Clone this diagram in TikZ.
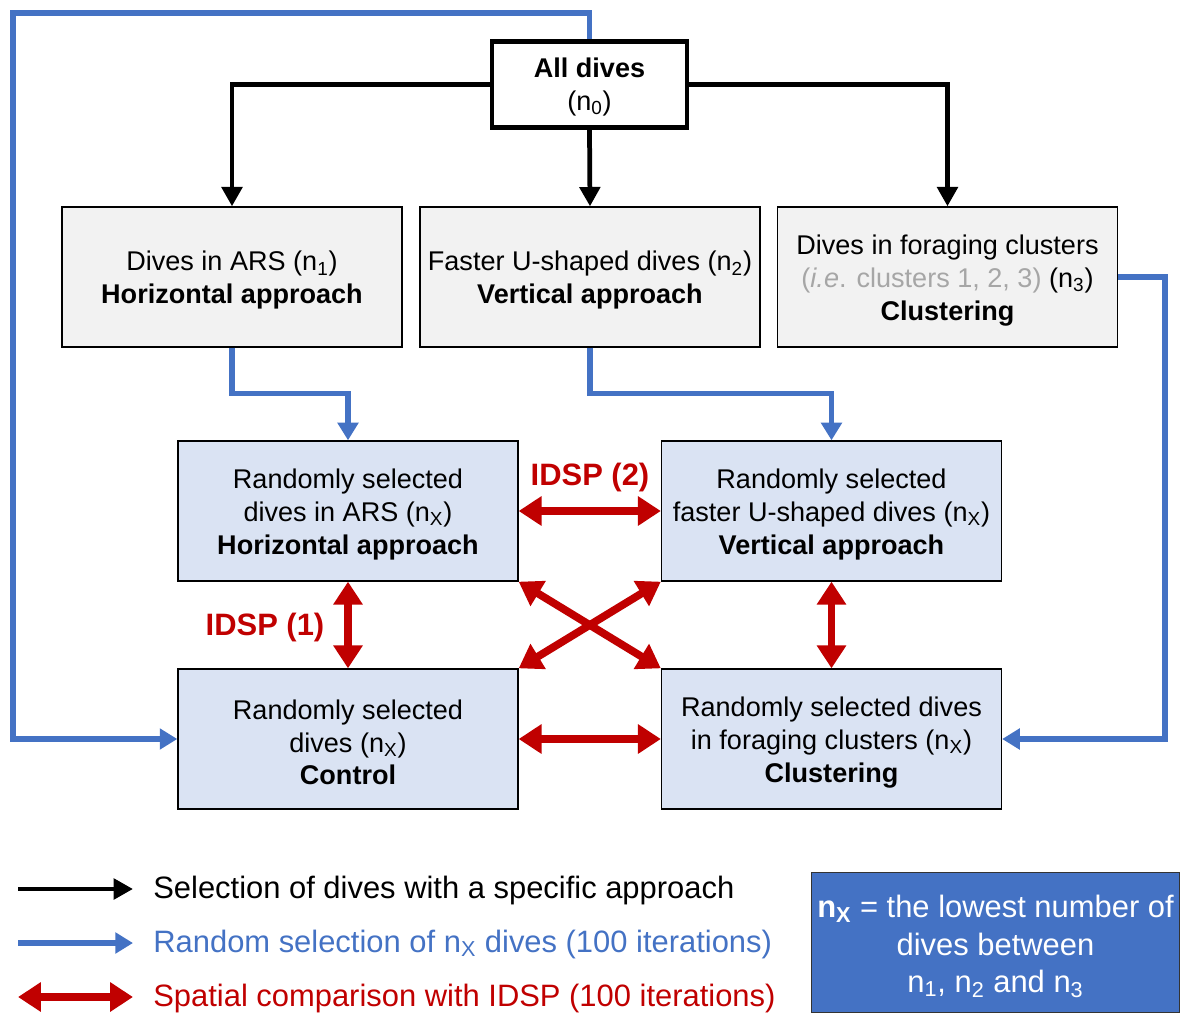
\documentclass[tikz,border=0pt]{standalone}
\usepackage{fontspec}
\setmainfont{Liberation Sans}
\usepackage{xcolor}
\usetikzlibrary{arrows.meta}

\definecolor{boxgrey}{HTML}{F2F2F2}
\definecolor{boxblue}{HTML}{DAE3F3}
\definecolor{linkblue}{HTML}{4472C4}
\definecolor{idspred}{HTML}{C00000}
\definecolor{textgrey}{HTML}{A6A6A6}

\tikzset{
  boxtext/.style={font=\fontsize{15.4}{18.7}\selectfont, align=center},
  greybox/.style={boxtext, draw, line width=0.8pt, fill=boxgrey, minimum width=6.8cm, minimum height=2.8cm},
  bluebox/.style={boxtext, draw, line width=0.8pt, fill=boxblue, minimum width=6.8cm, minimum height=2.8cm},
  selarrow/.style={line width=2.7pt, -{Triangle[length=11pt,width=11.5pt]}},
  randarrow/.style={linkblue, line width=3.1pt, -{Triangle[length=10pt,width=11.5pt]}},
  idsparrow/.style={idspred, line width=4.4pt, {Triangle[length=13pt,width=16pt]}-{Triangle[length=13pt,width=16pt]}},
  idsp/.style={idspred, font=\fontsize{17.6}{21}\selectfont\bfseries},
  legtext/.style={anchor=west, font=\fontsize{17.6}{21}\selectfont, inner sep=0pt}
}

\begin{document}
\begin{tikzpicture}[x=0.02cm, y=-0.02cm]
    \useasboundingbox (0,0) rectangle (1180,1014);

    % Source
    \node[boxtext, draw, line width=2.8pt, fill=white, minimum width=3.9cm, minimum height=1.72cm] (all) at (589.5,84.5) {\rule{0pt}{14pt}\textbf{All dives}\\(n\textsubscript{0})};

    % Approaches
    \node[greybox] (ars) at (232,277) {\rule{0pt}{15pt}Dives in ARS (n\textsubscript{1})\\\textbf{Horizontal approach}};
    \node[greybox] (ushape) at (590,277) {\rule{0pt}{15pt}Faster U-shaped dives (n\textsubscript{2})\\\textbf{Vertical approach}};
    \node[greybox] (clust) at (947.5,277) {\rule{0pt}{15pt}Dives in foraging clusters\\{\color{textgrey}(\textit{i.e}. clusters 1, 2, 3)} (n\textsubscript{3})\\\textbf{Clustering}};

    % Random selections
    \node[bluebox] (rars) at (348,511) {\rule{0pt}{15pt}Randomly selected\\dives in ARS (n\textsubscript{X})\\\textbf{Horizontal approach}};
    \node[bluebox] (rvert) at (831.5,511) {\rule{0pt}{15pt}Randomly selected\\faster U-shaped dives (n\textsubscript{X})\\\textbf{Vertical approach}};
    \node[bluebox] (rctrl) at (348,739) {\rule{0pt}{15pt}Randomly selected\\dives (n\textsubscript{X})\\\textbf{Control}};
    \node[bluebox] (rclust) at (831.5,739) {\rule{0pt}{15pt}Randomly selected dives\\in foraging clusters (n\textsubscript{X})\\\textbf{Clustering}};

    % Selection arrows
    \draw[selarrow] (all.west) -| (ars.north);
    \draw[selarrow] (all.south) -- (ushape.north);
    \draw[selarrow] (all.east) -| (clust.north);

    % Random selection arrows
    \coordinate (loop) at (13,13);
    \draw[randarrow] (ars.south) -- ++(0,46) -| (rars.north);
    \draw[randarrow] (ushape.south) -- ++(0,46) -| (rvert.north);
    \draw[randarrow] (clust.east) -- ++(47,0) |- (rclust.east);
    \draw[randarrow] (all.north) |- (loop) |- (rctrl.west);

    % IDSP comparisons
    \draw[idsparrow] (rars.east) -- (rvert.west);
    \draw[idsparrow] (rars.south) -- (rctrl.north);
    \draw[idsparrow] (rvert.south) -- (rclust.north);
    \draw[idsparrow] (rctrl.east) -- (rclust.west);
    \draw[idsparrow] (rars.south east) -- (rclust.north west);
    \draw[idsparrow] (rvert.south west) -- (rctrl.north east);
    \node[idsp] (idsp2) at (590,477) {IDSP (2)};
    \node[idsp] (idsp1) at (265,627) {IDSP (1)};

    % Legend
    \node[legtext] (leg1) at (153,890) {Selection of dives with a specific approach};
    \node[legtext, linkblue] (leg2) at (153,944) {Random selection of n\textsubscript{X} dives (100 iterations)};
    \node[legtext, idspred] (leg3) at (153,998) {Spatial comparison with IDSP (100 iterations)};
    \coordinate (leg1s) at (18,889);
    \coordinate (leg1e) at (133,889);
    \coordinate (leg2s) at (18,943);
    \coordinate (leg2e) at (133,943);
    \coordinate (leg3s) at (18,997);
    \coordinate (leg3e) at (133,997);
    \draw[selarrow] (leg1s) -- (leg1e);
    \draw[randarrow] (leg2s) -- (leg2e);
    \draw[idsparrow] (leg3s) -- (leg3e);

    \node[draw=black!80, line width=0.8pt, fill=linkblue, text=white, align=center, minimum width=7.36cm, minimum height=2.8cm, font=\fontsize{17.6}{21.3}\selectfont] (note) at (995.5,942.5) {\rule{0pt}{17pt}\textbf{n\textsubscript{X}} = the lowest number of\\dives between\\n\textsubscript{1}, n\textsubscript{2} and n\textsubscript{3}};
\end{tikzpicture}
\end{document}
